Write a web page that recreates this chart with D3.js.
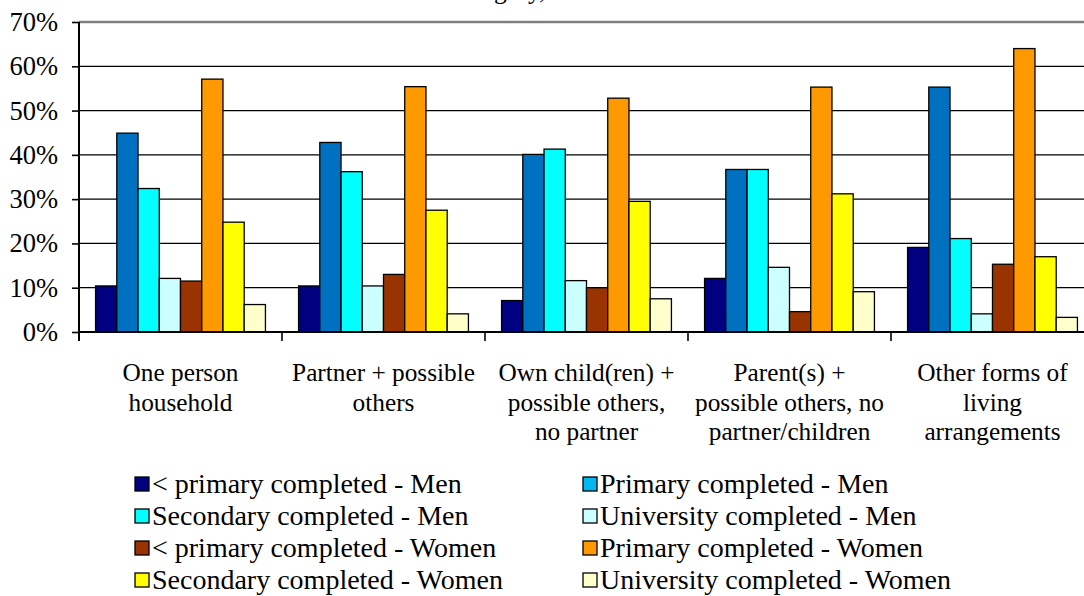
<!DOCTYPE html>
<html>
<head>
<meta charset="utf-8">
<script src="https://cdn.jsdelivr.net/npm/d3@7"></script>
<style>
  html, body { margin: 0; padding: 0; background: #fff; }
  svg { display: block; }
  svg text { font-family: 'Liberation Serif', Tinos, 'DejaVu Serif', serif !important; fill: #000; }
</style>
</head>
<body>
<svg id="chart" width="1084" height="596"></svg>
<script>
// ---- data ----
const categories = [
  ["One person", "household"],
  ["Partner + possible", "others"],
  ["Own child(ren) +", "possible others,", "no partner"],
  ["Parent(s) +", "possible others, no", "partner/children"],
  ["Other forms of", "living", "arrangements"]
];
const seriesNames = [
  "< primary completed - Men",
  "Primary completed - Men",
  "Secondary completed - Men",
  "University completed - Men",
  "< primary completed - Women",
  "Primary completed - Women",
  "Secondary completed - Women",
  "University completed - Women"
];
const ltPrimaryMen     = [10.4, 10.4, 7.1, 12.1, 19.1];
const primaryMen       = [44.9, 42.8, 40.1, 36.7, 55.3];
const secondaryMen     = [32.4, 36.2, 41.3, 36.7, 21.1];
const universityMen    = [12.1, 10.4, 11.6, 14.6, 4.1];
const ltPrimaryWomen   = [11.5, 13.0, 10.0, 4.6, 15.3];
const primaryWomen     = [57.1, 55.4, 52.8, 55.3, 64.0];
const secondaryWomen   = [24.8, 27.5, 29.5, 31.2, 17.0];
const universityWomen  = [6.2, 4.1, 7.5, 9.1, 3.3];
const seriesValues = [ltPrimaryMen, primaryMen, secondaryMen, universityMen,
                      ltPrimaryWomen, primaryWomen, secondaryWomen, universityWomen];
const barColors    = ["#000080", "#0070C0", "#00FFFF", "#CCFFFF", "#993300", "#FF9900", "#FFFF00", "#FFFFCC"];
const legendColors = ["#000080", "#00B8F0", "#00FFFF", "#CCFFFF", "#993300", "#FF9900", "#FFFF00", "#FFFFCC"];
const yTicks = [0, 10, 20, 30, 40, 50, 60, 70];

// ---- layout ----
const FONT = "'Liberation Serif', Tinos, 'DejaVu Serif', serif";
const svg = d3.select("#chart");
const plot = { left: 79, right: 1094, top: 22, bottom: 332 };

const x0 = d3.scaleBand().domain(d3.range(categories.length))
  .range([plot.left, plot.right]).paddingInner(0).paddingOuter(0);
const x1 = d3.scaleBand().domain(d3.range(seriesNames.length))
  .range([0, x0.bandwidth()]).paddingInner(0).paddingOuter(0.78);
const y = d3.scaleLinear().domain([0, 70]).range([plot.bottom, plot.top]);

// partial title (cut off at the top in the original)
svg.append("text")
  .attr("x", 453).attr("y", -1.5)
  .attr("font-family", FONT)
  .style("font-size", "25.5px")
  .text("category,");

// gridlines
svg.append("g").selectAll("line")
  .data(yTicks.filter(t => t > 0))
  .join("line")
  .attr("x1", plot.left).attr("x2", 1084)
  .attr("y1", d => y(d)).attr("y2", d => y(d))
  .attr("stroke", d => d === 70 ? "#808080" : "#000")
  .attr("stroke-width", d => d === 70 ? 2.6 : 1.3);

// y axis
const yAxis = d3.axisLeft(y).tickValues(yTicks).tickFormat(d => d + "%").tickSize(7).tickPadding(14);
const gy = svg.append("g").attr("transform", `translate(${plot.left},0)`).call(yAxis)
  .attr("font-family", FONT);
gy.select(".domain").remove();
gy.selectAll(".tick line").attr("stroke", "#000").attr("stroke-width", 1.6);
gy.selectAll(".tick text").style("font-size", "26.5px").attr("fill", "#000");
svg.append("line")
  .attr("x1", plot.left).attr("x2", plot.left)
  .attr("y1", plot.top).attr("y2", plot.bottom + 9)
  .attr("stroke", "#000").attr("stroke-width", 2);

// bars
const groups = svg.append("g").selectAll("g")
  .data(categories.map((c, i) => i))
  .join("g")
  .attr("transform", i => `translate(${x0(i)},0)`);
groups.selectAll("rect")
  .data(ci => seriesValues.map((vals, si) => ({ si, v: vals[ci] })))
  .join("rect")
  .attr("x", d => x1(d.si))
  .attr("width", x1.bandwidth())
  .attr("y", d => y(d.v))
  .attr("height", d => y(0) - y(d.v))
  .attr("fill", d => barColors[d.si])
  .attr("stroke", "#000")
  .attr("stroke-width", 1.3);

// x axis
svg.append("line")
  .attr("x1", plot.left).attr("x2", 1084)
  .attr("y1", plot.bottom).attr("y2", plot.bottom)
  .attr("stroke", "#000").attr("stroke-width", 2);
svg.append("g").selectAll("line")
  .data(d3.range(categories.length + 1))
  .join("line")
  .attr("x1", i => plot.left + i * x0.step()).attr("x2", i => plot.left + i * x0.step())
  .attr("y1", plot.bottom).attr("y2", plot.bottom + 9)
  .attr("stroke", "#000").attr("stroke-width", 1.6);

// category labels
const cl = svg.append("g").attr("font-family", FONT).selectAll("text")
  .data(categories)
  .join("text")
  .attr("text-anchor", "middle")
  .style("font-size", "25.3px")
  .attr("transform", (d, i) => `translate(${x0(i) + x0.bandwidth() / 2},381)`);
cl.selectAll("tspan")
  .data(d => d)
  .join("tspan")
  .attr("x", 0)
  .attr("y", (d, i) => i * 29.5)
  .text(d => d);

// legend
const legendCols = [135, 583];
const legendRows = [484, 516, 548, 580];
const lg = svg.append("g").attr("font-family", FONT).selectAll("g")
  .data(seriesNames)
  .join("g")
  .attr("transform", (d, i) => `translate(${legendCols[i % 2]},${legendRows[Math.floor(i / 2)]})`);
lg.append("rect")
  .attr("x", 0).attr("y", -7).attr("width", 14).attr("height", 14)
  .attr("fill", (d, i) => legendColors[i])
  .attr("stroke", "#000").attr("stroke-width", 1.3);
lg.append("text")
  .attr("x", 17).attr("y", 9)
  .style("font-size", "28px")
  .text(d => d);
</script>
</body>
</html>
